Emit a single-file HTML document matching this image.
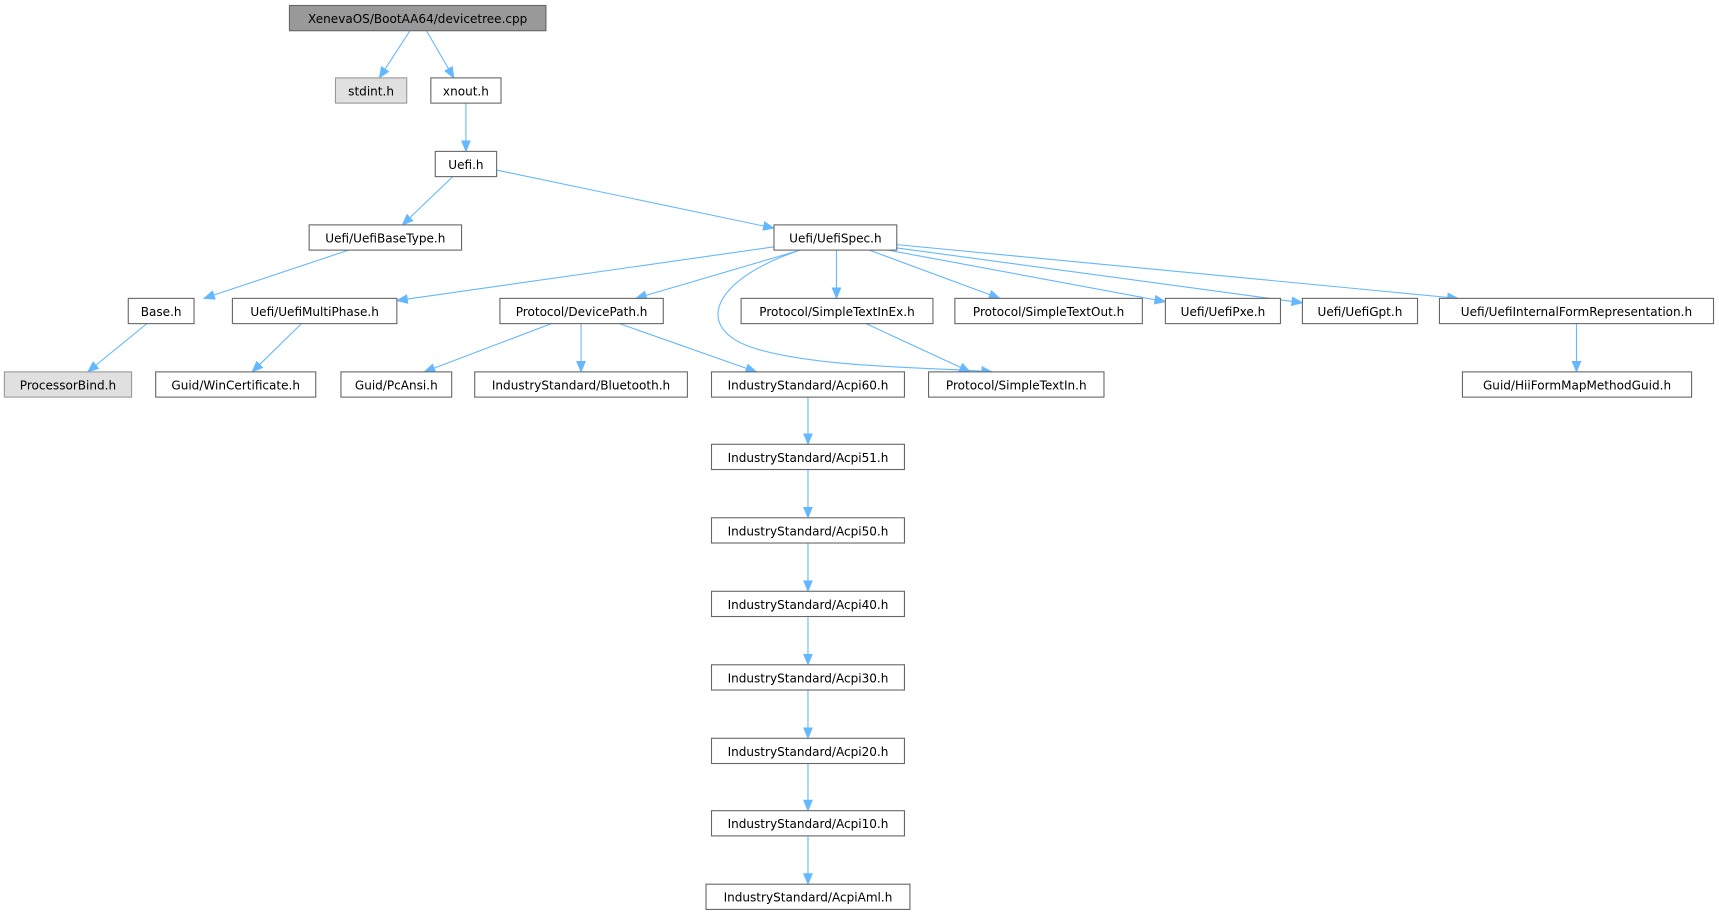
<!DOCTYPE html>
<html><head><meta charset="utf-8"><style>
html,body{margin:0;padding:0;background:#fff;}
svg{display:block;}
text{font-family:"DejaVu Sans","Liberation Sans",sans-serif;font-size:11px;fill:#000;text-anchor:middle;}
.b rect{fill:#fff;stroke:#666;stroke-width:1;}
.e{stroke:#63b8ff;stroke-width:1;fill:none;marker-end:url(#a);}
</style></head><body>
<svg width="1719" height="916" viewBox="0 0 1568 835" preserveAspectRatio="none">
<defs><marker id="a" markerWidth="11" markerHeight="9" refX="10" refY="4.5" orient="auto" markerUnits="userSpaceOnUse"><path d="M0,0 L11,4.5 L0,9 z" fill="#63b8ff"/></marker></defs>
<g>
<path class="e" d="M374,28 L346,71"/>
<path class="e" d="M389,28 L414,71"/>
<path class="e" d="M425,94 L425,138"/>
<path class="e" d="M413,161 L367,205"/>
<path class="e" d="M453,155 L706,208"/>
<path class="e" d="M318,228 L186,272"/>
<path class="e" d="M134,295 L80,339"/>
<path class="e" d="M275,295 L230,339"/>
<path class="e" d="M706,225 L362,274"/>
<path class="e" d="M730,228 L580,272"/>
<path class="e" d="M763,228 L763,272"/>
<path class="e" d="M793,228 L912,272"/>
<path class="e" d="M810,228 L1063,275"/>
<path class="e" d="M818,226 L1188,276"/>
<path class="e" d="M818,223 L1330,272"/>
<path class="e" d="M727,229 C650,255 630,300 690,318 S860,335 905,339"/>
<path class="e" d="M790,295 L885,339"/>
<path class="e" d="M503,295 L387,339"/>
<path class="e" d="M530,295 L530,339"/>
<path class="e" d="M565,295 L690,339"/>
<path class="e" d="M1438,295 L1438,339"/>
<path class="e" d="M737,362 L737,405"/>
<path class="e" d="M737,428 L737,472"/>
<path class="e" d="M737,495 L737,539"/>
<path class="e" d="M737,562 L737,606"/>
<path class="e" d="M737,629 L737,673"/>
<path class="e" d="M737,696 L737,739"/>
<path class="e" d="M737,762 L737,806"/>
</g>
<g class="b">
<rect x="264" y="5" width="234" height="23" style="fill:#999;stroke:#666"/><text x="381" y="21">XenevaOS/BootAA64/devicetree.cpp</text>
<rect x="306" y="71" width="65" height="23" style="fill:#e0e0e0;stroke:#999"/><text x="338.5" y="87">stdint.h</text>
<rect x="393" y="71" width="64" height="23"/><text x="425" y="87">xnout.h</text>
<rect x="397" y="138" width="56" height="23"/><text x="425" y="154">Uefi.h</text>
<rect x="282" y="205" width="139" height="23"/><text x="351.5" y="221">Uefi/UefiBaseType.h</text>
<rect x="706" y="205" width="112" height="23"/><text x="762" y="221">Uefi/UefiSpec.h</text>
<rect x="117" y="272" width="60" height="23"/><text x="147" y="288">Base.h</text>
<rect x="212" y="272" width="150" height="23"/><text x="287" y="288">Uefi/UefiMultiPhase.h</text>
<rect x="456" y="272" width="149" height="23"/><text x="530.5" y="288">Protocol/DevicePath.h</text>
<rect x="676" y="272" width="175" height="23"/><text x="763.5" y="288">Protocol/SimpleTextInEx.h</text>
<rect x="871" y="272" width="171" height="23"/><text x="956.5" y="288">Protocol/SimpleTextOut.h</text>
<rect x="1063" y="272" width="105" height="23"/><text x="1115.5" y="288">Uefi/UefiPxe.h</text>
<rect x="1188" y="272" width="105" height="23"/><text x="1240.5" y="288">Uefi/UefiGpt.h</text>
<rect x="1313" y="272" width="250" height="23"/><text x="1438" y="288">Uefi/UefiInternalFormRepresentation.h</text>
<rect x="4" y="339" width="116" height="23" style="fill:#e0e0e0;stroke:#999"/><text x="62" y="355">ProcessorBind.h</text>
<rect x="142" y="339" width="146" height="23"/><text x="215" y="355">Guid/WinCertificate.h</text>
<rect x="311" y="339" width="101" height="23"/><text x="361.5" y="355">Guid/PcAnsi.h</text>
<rect x="433" y="339" width="194" height="23"/><text x="530" y="355">IndustryStandard/Bluetooth.h</text>
<rect x="649" y="339" width="176" height="23"/><text x="737" y="355">IndustryStandard/Acpi60.h</text>
<rect x="847" y="339" width="160" height="23"/><text x="927" y="355">Protocol/SimpleTextIn.h</text>
<rect x="1334" y="339" width="209" height="23"/><text x="1438.5" y="355">Guid/HiiFormMapMethodGuid.h</text>
<rect x="649" y="405" width="176" height="23"/><text x="737" y="421">IndustryStandard/Acpi51.h</text>
<rect x="649" y="472" width="176" height="23"/><text x="737" y="488">IndustryStandard/Acpi50.h</text>
<rect x="649" y="539" width="176" height="23"/><text x="737" y="555">IndustryStandard/Acpi40.h</text>
<rect x="649" y="606" width="176" height="23"/><text x="737" y="622">IndustryStandard/Acpi30.h</text>
<rect x="649" y="673" width="176" height="23"/><text x="737" y="689">IndustryStandard/Acpi20.h</text>
<rect x="649" y="739" width="176" height="23"/><text x="737" y="755">IndustryStandard/Acpi10.h</text>
<rect x="644" y="806" width="186" height="23"/><text x="737" y="822">IndustryStandard/AcpiAml.h</text>
</g>
</svg>
</body></html>
